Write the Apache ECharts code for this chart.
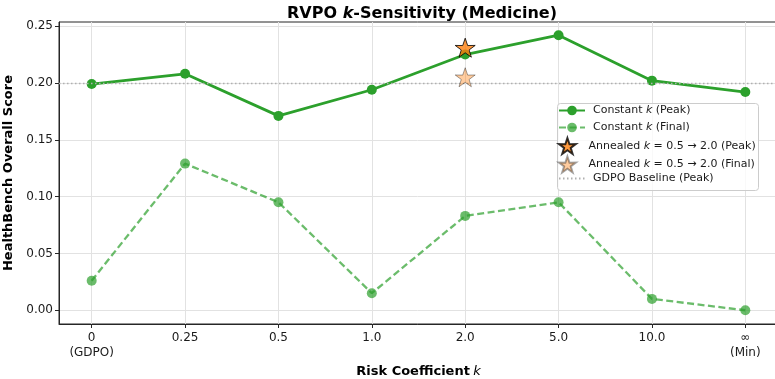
<!DOCTYPE html>
<html>
<head>
<meta charset="utf-8">
<script src="https://cdn.jsdelivr.net/npm/echarts@6/dist/echarts.min.js"></script>
<style>
  html, body { margin: 0; padding: 0; background: #fff; }
  #chart { width: 775px; height: 379px; }
</style>
</head>
<body>
<div id="chart"></div>
<script>
// risk coefficient k, shown as categories
const kLabels = ['0\n(GDPO)', '0.25', '0.5', '1.0', '2.0', '5.0', '10.0', '∞\n(Min)'];
const peakScores = [0.199, 0.208, 0.171, 0.194, 0.225, 0.242, 0.202, 0.192];
const finalScores = [0.026, 0.129, 0.095, 0.015, 0.083, 0.095, 0.010, 0.000];
const annealedK = 4; // index of k = 2.0
const annealedPeak = 0.231;
const annealedFinal = 0.205;
const gdpoBaselinePeak = 0.199;
const yTicks = [0, 0.05, 0.10, 0.15, 0.20, 0.25];

const FONT = 'DejaVu Sans';
const STAR = 'path://M50,0 L61.8,35.1 L97.6,34.5 L68.7,55.9 L79.4,90.5 L50,69.5 L20.6,90.5 L31.3,55.9 L2.4,34.5 L38.2,35.1 Z';
const xIdx = kLabels.map((_, i) => i);

const chart = echarts.init(document.getElementById('chart'));

const legendCommon = {
  orient: 'vertical',
  left: 558,
  padding: 0,
  itemWidth: 26,
  textStyle: {
    fontFamily: FONT, fontSize: 11, color: '#1a1a1a', padding: [0, 0, 0, 3],
    rich: { i: { fontStyle: 'italic', fontFamily: FONT, fontSize: 11, color: '#1a1a1a' } }
  },
  formatter: name => name.replace(' k ', ' {i|k} '),
  selectedMode: false,
  z: 11
};

chart.setOption({
  animation: false,
  title: {
    text: '{b|RVPO }{i|k}{b|-Sensitivity (Medicine)}',
    left: 417,
    textAlign: 'center',
    top: 1,
    textStyle: {
      rich: {
        b: { fontFamily: FONT, fontSize: 16, fontWeight: 'bold', color: '#000' },
        i: { fontFamily: FONT, fontSize: 16, fontStyle: 'italic', color: '#000' }
      }
    }
  },
  graphic: [{
    type: 'rect',
    left: 557, top: 103, z: 10,
    shape: { width: 201, height: 87, r: 3 },
    style: { fill: 'rgba(255,255,255,0.8)', stroke: '#cccccc', lineWidth: 1 }
  }],
  legend: [
    Object.assign({}, legendCommon, {
      top: 105, itemHeight: 12, itemGap: 6,
      data: ['Constant k (Peak)', 'Constant k (Final)']
    }),
    Object.assign({}, legendCommon, {
      top: 137, itemHeight: 16, itemGap: 0.5,
      data: ['Annealed k = 0.5 → 2.0 (Peak)', 'Annealed k = 0.5 → 2.0 (Final)']
    }),
    Object.assign({}, legendCommon, {
      top: 173, itemHeight: 12,
      data: [{ name: 'GDPO Baseline (Peak)', itemStyle: { opacity: 0 } }]
    })
  ],
  grid: {
    left: 59, right: -3, top: 22, bottom: 55,
    outerBoundsMode: 'none',
    containLabel: false,
    show: true, borderColor: '#262626', borderWidth: 1
  },
  xAxis: {
    type: 'value',
    min: -0.35,
    max: 7.35,
    splitNumber: 8,
    name: '{b|Risk Coefficient} {i|k}',
    nameLocation: 'middle',
    nameGap: 35,
    nameTextStyle: {
      rich: {
        b: { fontFamily: FONT, fontSize: 13, fontWeight: 'bold', color: '#000' },
        i: { fontFamily: FONT, fontSize: 13, fontStyle: 'italic', color: '#000' }
      }
    },
    axisLine: { show: true, onZero: false, lineStyle: { color: '#262626', width: 1 } },
    axisTick: { show: true, customValues: xIdx, length: 4, lineStyle: { color: '#262626' } },
    axisLabel: {
      customValues: xIdx,
      formatter: v => kLabels[Math.round(v)],
      fontFamily: FONT, fontSize: 12, color: '#1a1a1a', margin: 6, lineHeight: 15
    },
    splitLine: { show: true, lineStyle: { color: '#e2e2e2', width: 1 } }
  },
  yAxis: {
    type: 'value',
    min: -0.0121,
    max: 0.2536,
    splitNumber: 5,
    name: 'HealthBench Overall Score',
    nameLocation: 'middle',
    nameGap: 38,
    nameTextStyle: { fontFamily: FONT, fontSize: 13, fontWeight: 'bold', color: '#000' },
    axisLine: { show: true, onZero: false, lineStyle: { color: '#262626', width: 1 } },
    axisTick: { show: true, customValues: yTicks, length: 4, lineStyle: { color: '#262626' } },
    axisLabel: {
      customValues: yTicks,
      formatter: v => v.toFixed(2),
      fontFamily: FONT, fontSize: 12, color: '#1a1a1a', margin: 6
    },
    splitLine: { show: true, lineStyle: { color: '#e2e2e2', width: 1 } }
  },
  series: [
    {
      name: 'GDPO Baseline (Peak)',
      type: 'line',
      data: [],
      symbol: 'none',
      z: 1,
      lineStyle: { color: '#b0b0b0', width: 1.3, type: [1.5, 2.5] },
      itemStyle: { color: '#b0b0b0' },
      markLine: {
        silent: true,
        symbol: ['none', 'none'],
        label: { show: false },
        lineStyle: { color: '#b0b0b0', width: 1.3, type: [1.5, 2.5] },
        data: [{ yAxis: gdpoBaselinePeak }]
      }
    },
    {
      name: 'Constant k (Peak)',
      type: 'line',
      data: xIdx.map(i => [i, peakScores[i]]),
      symbol: 'circle',
      symbolSize: 10,
      z: 3,
      lineStyle: { color: '#2ca02c', width: 2.8 },
      itemStyle: { color: '#2ca02c' }
    },
    {
      name: 'Constant k (Final)',
      type: 'line',
      data: xIdx.map(i => [i, finalScores[i]]),
      symbol: 'circle',
      symbolSize: 10,
      z: 2,
      lineStyle: { color: '#2ca02c', width: 2.3, type: [7, 3.5], opacity: 0.7 },
      itemStyle: { color: '#2ca02c', opacity: 0.7 }
    },
    {
      name: 'Annealed k = 0.5 → 2.0 (Peak)',
      type: 'scatter',
      data: [[annealedK, annealedPeak]],
      symbol: STAR,
      symbolKeepAspect: true,
      symbolSize: 20,
      z: 5,
      itemStyle: { color: '#ff7f0e', borderColor: '#000', borderWidth: 1 }
    },
    {
      name: 'Annealed k = 0.5 → 2.0 (Final)',
      type: 'scatter',
      data: [[annealedK, annealedFinal]],
      symbol: STAR,
      symbolKeepAspect: true,
      symbolSize: 20,
      z: 5,
      itemStyle: { color: 'rgba(255,127,14,0.5)', borderColor: 'rgba(0,0,0,0.45)', borderWidth: 1 }
    }
  ]
});
</script>
</body>
</html>
